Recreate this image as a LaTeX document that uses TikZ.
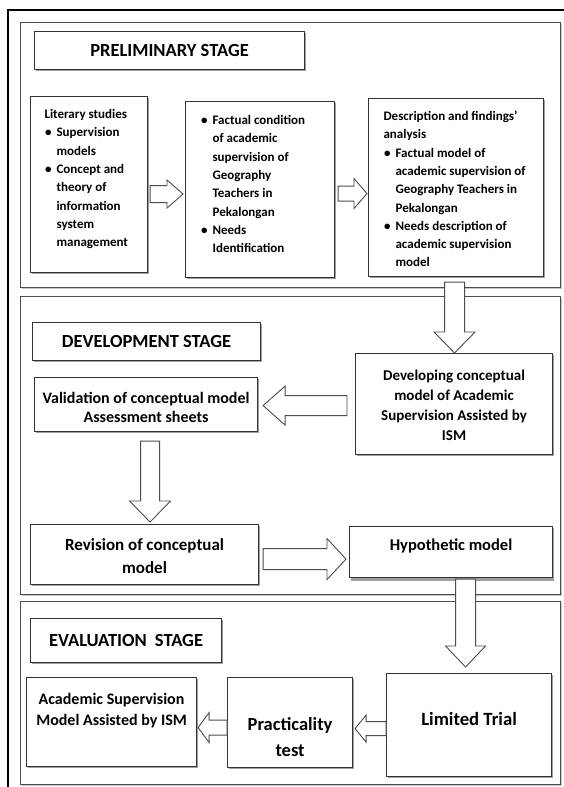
\documentclass[tikz,border=0pt]{standalone}
\usepackage{fontspec}
\setmainfont{Carlito}
\usetikzlibrary{calc,shadows}

% bullet list used inside the boxes
\newenvironment{dotlist}{%
  \begin{list}{\textbullet}{%
    \setlength{\leftmargin}{12pt}\setlength{\labelsep}{5pt}%
    \setlength{\labelwidth}{7pt}\setlength{\itemindent}{0pt}%
    \setlength{\itemsep}{0pt}\setlength{\parsep}{0pt}%
    \setlength{\topsep}{0pt}\setlength{\partopsep}{0pt}}}%
  {\end{list}}

\newcommand{\setfs}[2]{\fontsize{#1}{#2}\selectfont}
% first baseline sits #1 below the top of the box
\newcommand{\lead}[1]{\rule{0pt}{#1}}
% a line without bullet, flush with the left edge
\newcommand{\plainline}[1]{\hspace*{-12pt}#1}

% left gap, width, height, text
\newcommand{\textblock}[4]{\hspace*{#1}\parbox[t][#3][t]{#2}{#4}}

% hollow block arrow: from, to, half shaft, half head, head length
\newcommand{\blockarrow}[5]{%
  \coordinate (ba-h) at ($(#2)!#5!(#1)$);
  \draw[hollow] ($(#1)!#3!90:(#2)$) -- ($(ba-h)!#3!90:(#2)$) -- ($(ba-h)!#4!90:(#2)$) -- (#2)
    -- ($(ba-h)!#4!-90:(#2)$) -- ($(ba-h)!#3!-90:(#2)$) -- ($(#1)!#3!-90:(#2)$) -- cycle;}

\begin{document}
\begin{tikzpicture}
  [x=1pt,y=-1pt,
   panel/.style={draw=gray!60!black,line width=1.2pt,fill=white,anchor=north west,inner sep=0pt,
     drop shadow={shadow xshift=1.2pt,shadow yshift=-1.2pt,fill=gray!45,opacity=1}},
   textbox/.style={draw=black!80,line width=1.1pt,fill=white,anchor=north west,inner sep=0pt,
     font=\bfseries,drop shadow={shadow xshift=1.3pt,shadow yshift=-1.6pt,fill=gray!75,opacity=1}},
   headbox/.style={textbox,font=\setfs{18.5}{22}\bfseries},
   hollow/.style={draw=black!70,line width=0.9pt,fill=white,line join=miter}]

  \useasboundingbox (0,0) rectangle (564,787);

  % outer frame
  \draw[line width=2.2pt] (8,787) -- (8,10);
  \draw[line width=1.6pt] (7,10) -- (564,10);

  % the three stages
  \node[panel,minimum width=540pt,minimum height=265pt] (prelim) at (20,22) {};
  \node[panel,minimum width=540pt,minimum height=298pt] (devel) at (20,296) {};
  \node[panel,minimum width=540pt,minimum height=183pt] (eval) at (20,601) {};

  % preliminary stage
  \node[headbox,minimum width=270pt,minimum height=38pt] (prehead) at (34,31) {PRELIMINARY STAGE};
  \node[textbox,font=\setfs{13}{18.3}\bfseries] (lit) at (30,96)
    {\textblock{14pt}{103pt}{176pt}{\raggedright
      \begin{dotlist}
        \item[] \lead{22pt}\plainline{Literary studies}
        \item Supervision\\ models
        \item Concept and\\ theory of\\ information\\ system\\ management
      \end{dotlist}}};
  \node[textbox,font=\setfs{13}{18.3}\bfseries] (fact) at (185,101)
    {\textblock{15pt}{134pt}{176pt}{\raggedright
      \begin{dotlist}
        \item \lead{23pt}Factual condition\\ of academic\\ supervision of\\ Geography\\ Teachers in\\ Pekalongan
        \item Needs\\ Identification
      \end{dotlist}}};
  \node[textbox,font=\setfs{13}{18.3}\bfseries] (desc) at (368,98)
    {\textblock{15pt}{160pt}{178pt}{\raggedright
      \begin{dotlist}
        \item[] \lead{22pt}\plainline{Description and findings’}\\ \plainline{analysis}
        \item Factual model of\\ academic supervision of\\ Geography Teachers in\\ Pekalongan
        \item Needs description of\\ academic supervision\\ model
      \end{dotlist}}};

  % development stage
  \node[headbox,minimum width=228pt,minimum height=38pt] (devhead) at (32,322) {DEVELOPMENT STAGE};
  \node[textbox,font=\setfs{15}{20.3}\bfseries] (concept) at (355,353)
    {\textblock{0pt}{197pt}{101pt}{\centering
      \lead{26.5pt}Developing conceptual\\ model of Academic\\ Supervision Assisted by\\ ISM}};
  \node[textbox,font=\setfs{16}{19}\bfseries] (valid) at (34,377)
    {\textblock{0pt}{223pt}{54pt}{\centering
      \lead{26pt}Validation of conceptual model\\ Assessment sheets}};
  \node[textbox,font=\setfs{17}{23}\bfseries] (revis) at (30,524)
    {\textblock{0pt}{228pt}{60pt}{\centering \lead{26pt}Revision of conceptual\\ model}};
  \node[textbox,font=\setfs{16.5}{20}\bfseries,drop shadow={shadow xshift=1.5pt,shadow yshift=-3.5pt,fill=gray!75,opacity=1}] (hypo) at (349,526)
    {\textblock{0pt}{203pt}{51pt}{\centering \lead{24pt}Hypothetic model}};

  % evaluation stage
  \node[headbox,minimum width=191pt,minimum height=44pt] (evalhead) at (30,618) {EVALUATION\hspace{4pt} STAGE};
  \node[textbox,font=\setfs{18.7}{26}\bfseries] (trial) at (386,673)
    {\textblock{0pt}{165pt}{103pt}{\centering \lead{51.5pt}Limited Trial}};
  \node[textbox,font=\setfs{18.5}{26}\bfseries] (pract) at (227,677)
    {\textblock{0pt}{125pt}{90pt}{\centering \lead{52.5pt}Practicality\\ test}};
  \node[textbox,font=\setfs{16}{21}\bfseries] (asm) at (26,677)
    {\textblock{0pt}{170pt}{89pt}{\centering \lead{26.5pt}Academic Supervision\\ Model Assisted by ISM}};

  % ends of the block arrows
  \coordinate (a1s) at ($(lit.east)+(2,9.5)$);
  \coordinate (a1e) at ($(fact.west)+(-2,4.5)$);
  \coordinate (a2s) at ($(fact.east)+(3,4)$);
  \coordinate (a2e) at ($(desc.west)+(-1,6)$);
  \coordinate (a3s) at ($(desc.south)+(-1.5,5)$);
  \coordinate (a3e) at ($(concept.north)+(0.5,0)$);
  \coordinate (a4s) at ($(concept.west)+(-8,1.5)$);
  \coordinate (a4e) at ($(valid.east)+(5,1)$);
  \coordinate (a5s) at ($(valid.south)+(4,9)$);
  \coordinate (a5e) at ($(revis.north)+(5.5,-2)$);
  \coordinate (a6s) at ($(revis.east)+(4,4.5)$);
  \coordinate (a6e) at ($(hypo.west)+(-3,7)$);
  \coordinate (a7s) at ($(hypo.south)+(14.5,1)$);
  \coordinate (a7e) at ($(trial.north)+(-3.5,-6)$);
  \coordinate (a8s) at ($(trial.west)+(0,3.5)$);
  \coordinate (a8e) at ($(pract.east)+(2,6)$);
  \coordinate (a9s) at ($(pract.west)+(0,5)$);
  \coordinate (a9e) at ($(asm.east)+(1,5.5)$);

  \blockarrow{a1s}{a1e}{8.5pt}{14pt}{16pt}
  \blockarrow{a2s}{a2e}{7.5pt}{15pt}{13pt}
  \blockarrow{a3s}{a3e}{10pt}{20.5pt}{21pt}
  \blockarrow{a4s}{a4e}{10pt}{19.5pt}{22pt}
  \blockarrow{a5s}{a5e}{9.5pt}{20.5pt}{21pt}
  \blockarrow{a6s}{a6e}{10.5pt}{20.5pt}{19pt}
  \blockarrow{a7s}{a7e}{10pt}{20pt}{21pt}
  \blockarrow{a8s}{a8e}{7pt}{13.5pt}{11pt}
  \blockarrow{a9s}{a9e}{7.5pt}{15pt}{11pt}
\end{tikzpicture}
\end{document}
